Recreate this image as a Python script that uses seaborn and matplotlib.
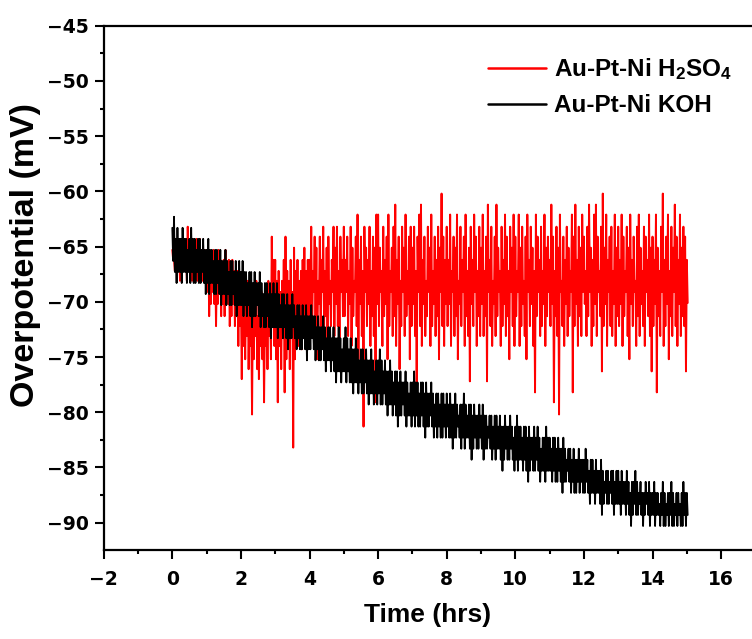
import numpy as np
import pandas as pd
import matplotlib
matplotlib.use("Agg")
import matplotlib.pyplot as plt
import seaborn as sns
from matplotlib.ticker import MultipleLocator


# each run is read as the upper and lower excursion in every 0.05 h slot
TIME_STEP_HRS = 0.05

# Au-Pt-Ni in H2SO4, overpotential (mV), one row per hour
h2so4_high = [
    -65.3, -66.2, -64.3, -65.3, -65.3, -64.3, -66.2, -65.3, -64.3, -63.2, -65.3, -64.3, -65.3, -66.2, -64.3, -65.3, -64.3, -65.3, -66.2, -65.3,
    -66.2, -65.3, -67.2, -66.2, -65.3, -66.2, -67.2, -65.3, -66.2, -67.2, -66.2, -65.3, -67.2, -66.2, -68.1, -66.2, -67.2, -68.1, -67.2, -68.1,
    -69.1, -68.1, -70.2, -69.1, -68.1, -70.2, -71.3, -69.1, -70.2, -68.1, -71.3, -70.2, -69.1, -70.2, -71.3, -69.1, -68.1, -70.2, -64.1, -66.2,
    -66.2, -68.1, -67.2, -69.1, -68.1, -66.2, -64.1, -67.2, -68.1, -66.2, -69.1, -65.1, -67.2, -66.2, -68.1, -67.2, -66.2, -65.1, -67.2, -66.2,
    -66.2, -63.2, -67.2, -64.1, -65.1, -68.1, -64.1, -66.2, -63.2, -67.2, -65.1, -64.1, -68.1, -66.2, -63.2, -65.1, -63.2, -67.2, -64.1, -66.2,
    -63.2, -66.2, -64.1, -67.2, -63.2, -65.1, -68.1, -64.1, -62.1, -66.2, -64.1, -67.2, -63.2, -65.1, -66.2, -63.2, -67.2, -64.1, -65.1, -62.1,
    -62.1, -65.1, -67.2, -63.2, -66.2, -64.1, -62.1, -67.2, -65.1, -63.2, -61.2, -66.2, -64.1, -68.1, -63.2, -65.1, -62.1, -67.2, -64.1, -63.2,
    -65.1, -63.2, -67.2, -64.1, -62.1, -61.2, -66.2, -64.1, -68.1, -63.2, -65.1, -62.1, -67.2, -64.1, -66.2, -63.2, -65.1, -60.2, -64.1, -66.2,
    -63.2, -66.2, -62.1, -67.2, -64.1, -65.1, -62.1, -68.1, -63.2, -66.2, -64.1, -62.1, -67.2, -65.1, -63.2, -66.2, -62.1, -64.1, -67.2, -63.2,
    -65.1, -62.1, -67.2, -64.1, -61.2, -66.2, -63.2, -68.1, -64.1, -61.2, -65.1, -67.2, -63.2, -66.2, -62.1, -64.1, -67.2, -63.2, -65.1, -62.1,
    -64.1, -67.2, -62.1, -65.1, -63.2, -68.1, -64.1, -62.1, -66.2, -63.2, -65.1, -67.2, -62.1, -64.1, -66.2, -63.2, -67.2, -62.1, -65.1, -64.1,
    -66.2, -61.2, -64.1, -67.2, -63.2, -65.1, -62.1, -68.1, -64.1, -66.2, -63.2, -65.1, -67.2, -62.1, -64.1, -61.2, -66.2, -63.2, -65.1, -62.1,
    -64.1, -67.2, -63.2, -61.2, -65.1, -66.2, -62.1, -61.2, -64.1, -67.2, -63.2, -60.2, -65.1, -62.1, -66.2, -64.1, -63.2, -67.2, -62.1, -65.1,
    -63.2, -66.2, -62.1, -64.1, -67.2, -63.2, -65.1, -62.1, -66.2, -64.1, -68.1, -63.2, -62.1, -65.1, -67.2, -63.2, -64.1, -66.2, -62.1, -65.1,
    -64.1, -66.2, -62.1, -65.1, -67.2, -63.2, -60.2, -66.2, -64.1, -62.1, -67.2, -63.2, -65.1, -61.2, -64.1, -66.2, -62.1, -65.1, -63.2, -64.1,
    -66.2,
]
h2so4_low = [
    -66.2, -67.2, -67.2, -66.2, -68.1, -67.2, -66.2, -67.2, -68.1, -67.2, -66.2, -68.1, -67.2, -67.2, -68.1, -66.2, -67.2, -68.1, -67.2, -68.1,
    -69.1, -71.3, -70.2, -69.1, -70.2, -72.2, -70.2, -69.1, -71.3, -70.2, -71.3, -69.1, -70.2, -72.2, -71.3, -70.2, -72.2, -71.3, -74.0, -72.2,
    -77.0, -74.0, -75.2, -73.1, -76.1, -74.0, -80.2, -75.2, -73.1, -76.1, -77.0, -74.0, -75.2, -79.1, -74.0, -76.1, -73.1, -75.2, -72.2, -74.0,
    -75.2, -79.1, -74.0, -76.1, -73.1, -78.2, -75.2, -74.0, -76.1, -73.1, -83.2, -75.2, -72.2, -74.0, -73.1, -74.3, -72.2, -73.1, -74.0, -72.2,
    -70.2, -73.1, -69.1, -72.2, -75.2, -70.2, -74.0, -69.1, -72.2, -71.3, -74.0, -70.2, -72.2, -69.1, -73.1, -70.2, -72.2, -74.0, -69.1, -71.3,
    -71.3, -69.1, -73.1, -70.2, -74.0, -71.3, -69.1, -72.2, -75.2, -70.2, -73.1, -81.3, -69.1, -72.2, -70.2, -74.0, -71.3, -73.1, -79.1, -70.2,
    -72.2, -69.1, -74.0, -71.3, -70.2, -75.2, -72.2, -69.1, -73.1, -71.3, -74.0, -70.2, -76.1, -72.2, -69.1, -73.1, -71.3, -70.2, -75.2, -72.2,
    -70.2, -73.1, -77.9, -69.1, -72.2, -74.0, -70.2, -73.1, -71.3, -69.1, -74.0, -72.2, -70.2, -73.1, -71.3, -75.2, -69.1, -72.2, -74.0, -70.2,
    -72.2, -70.2, -74.0, -69.1, -73.1, -71.3, -75.2, -70.2, -72.2, -69.1, -74.0, -71.3, -73.1, -77.2, -70.2, -72.2, -69.1, -74.0, -71.3, -73.1,
    -70.2, -73.1, -71.3, -77.2, -69.1, -72.2, -74.0, -70.2, -73.1, -71.3, -69.1, -74.0, -72.2, -70.2, -73.1, -71.3, -75.2, -69.1, -72.2, -74.0,
    -71.3, -69.1, -74.0, -72.2, -70.2, -73.1, -75.2, -69.1, -72.2, -70.2, -74.0, -78.2, -71.3, -69.1, -73.1, -72.2, -70.2, -74.0, -71.3, -69.1,
    -72.2, -70.2, -79.1, -71.3, -73.1, -80.2, -69.1, -72.2, -74.0, -70.2, -73.1, -71.3, -69.1, -78.2, -72.2, -70.2, -74.0, -71.3, -73.1, -69.1,
    -70.2, -73.1, -71.3, -69.1, -74.0, -72.2, -70.2, -73.1, -69.1, -71.3, -76.3, -72.2, -70.2, -74.0, -69.1, -72.2, -73.1, -70.2, -74.0, -71.3,
    -72.2, -70.2, -74.0, -71.3, -69.1, -73.1, -75.2, -70.2, -72.2, -69.1, -74.0, -71.3, -73.1, -70.2, -72.2, -74.0, -69.1, -71.3, -73.1, -76.3,
    -72.2, -70.2, -78.2, -71.3, -73.1, -69.1, -74.0, -72.2, -70.2, -75.2, -71.3, -73.1, -69.1, -72.2, -74.0, -70.2, -73.1, -71.3, -72.2, -76.3,
    -70.1,
]

# Au-Pt-Ni in KOH, overpotential (mV), one row per hour
koh_high = [
    -63.3, -62.3, -64.3, -63.3, -64.3, -64.3, -63.3, -64.3, -64.3, -65.3, -64.3, -63.3, -64.3, -64.3, -65.3, -64.3, -64.3, -65.3, -64.3, -65.3,
    -65.3, -64.3, -65.3, -65.3, -66.3, -65.3, -65.3, -66.3, -65.3, -66.3, -66.3, -65.3, -66.3, -67.3, -66.3, -66.3, -67.3, -66.3, -67.3, -66.3,
    -67.3, -66.3, -67.3, -67.3, -68.3, -67.3, -67.3, -68.3, -67.3, -68.3, -68.3, -67.3, -68.3, -69.3, -68.3, -68.3, -69.3, -68.3, -69.3, -68.3,
    -69.3, -68.3, -69.3, -70.3, -69.3, -69.3, -70.3, -69.3, -70.3, -70.3, -69.3, -70.3, -71.3, -70.3, -70.3, -71.3, -70.3, -71.3, -70.3, -71.3,
    -71.3, -70.3, -71.3, -71.3, -72.3, -71.3, -72.3, -72.3, -71.3, -72.3, -73.3, -72.3, -72.3, -73.3, -72.3, -73.3, -73.3, -72.3, -73.3, -74.3,
    -73.3, -72.3, -73.3, -74.3, -73.3, -74.3, -74.3, -73.3, -74.3, -75.3, -74.3, -74.3, -75.3, -74.3, -75.3, -75.3, -74.3, -75.3, -76.3, -75.3,
    -75.3, -74.3, -75.3, -76.3, -75.3, -76.3, -76.3, -75.3, -76.3, -77.3, -76.3, -76.3, -77.3, -76.3, -77.3, -77.3, -76.3, -77.3, -78.3, -77.3,
    -77.3, -76.3, -77.3, -77.3, -78.3, -77.3, -77.3, -78.3, -77.3, -78.3, -78.3, -77.3, -78.3, -79.3, -78.3, -78.3, -79.3, -78.3, -78.3, -79.3,
    -78.3, -79.3, -78.3, -79.3, -79.3, -78.3, -79.3, -80.3, -79.3, -79.3, -78.3, -79.3, -80.3, -79.3, -79.3, -80.3, -79.3, -80.3, -80.3, -79.3,
    -80.3, -79.3, -80.3, -80.3, -81.3, -80.3, -80.3, -81.3, -80.3, -80.3, -81.3, -80.3, -81.3, -81.3, -80.3, -81.3, -81.3, -80.3, -81.3, -82.3,
    -81.3, -80.3, -81.3, -81.3, -82.3, -81.3, -81.3, -82.3, -81.3, -82.3, -82.3, -81.3, -82.3, -81.3, -82.3, -83.3, -82.3, -82.3, -81.3, -82.3,
    -82.3, -83.3, -82.3, -82.3, -83.3, -82.3, -83.3, -83.3, -82.3, -83.3, -84.3, -83.3, -83.3, -84.3, -83.3, -84.3, -84.3, -83.3, -84.3, -84.3,
    -84.3, -83.3, -84.3, -85.3, -84.3, -84.3, -85.3, -84.3, -85.3, -85.3, -84.3, -85.3, -86.3, -85.3, -85.3, -86.3, -85.3, -85.3, -86.3, -85.3,
    -85.3, -86.3, -85.3, -86.3, -86.3, -85.3, -86.3, -87.3, -86.3, -86.3, -85.3, -86.3, -87.3, -86.3, -87.3, -87.3, -86.3, -87.3, -86.3, -87.3,
    -87.3, -86.3, -87.3, -87.3, -88.3, -87.3, -86.3, -87.3, -88.3, -87.3, -87.3, -86.3, -87.3, -88.3, -87.3, -87.3, -88.3, -87.3, -86.3, -87.3,
    -87.3,
]
koh_low = [
    -66.3, -67.3, -68.3, -67.3, -67.3, -68.3, -67.3, -67.3, -68.3, -67.3, -68.3, -67.3, -68.3, -68.3, -67.3, -68.3, -68.3, -67.3, -68.3, -69.3,
    -68.3, -69.3, -68.3, -68.3, -69.3, -69.3, -68.3, -69.3, -70.3, -69.3, -69.3, -70.3, -69.3, -70.3, -70.3, -69.3, -70.3, -71.3, -70.3, -70.3,
    -70.3, -71.3, -70.3, -71.3, -70.3, -71.3, -72.3, -71.3, -71.3, -70.3, -71.3, -72.3, -71.3, -72.3, -72.3, -71.3, -72.3, -73.3, -72.3, -72.3,
    -72.3, -73.3, -72.3, -72.3, -73.3, -72.3, -73.3, -74.3, -73.3, -73.3, -72.3, -73.3, -74.3, -73.3, -74.3, -74.3, -73.3, -74.3, -75.3, -74.3,
    -74.3, -73.3, -74.3, -75.3, -74.3, -75.3, -75.3, -74.3, -75.3, -76.3, -75.3, -75.3, -76.3, -75.3, -76.3, -77.3, -76.3, -76.3, -77.3, -76.3,
    -76.3, -77.3, -76.3, -77.3, -77.3, -78.3, -77.3, -77.3, -78.3, -77.3, -78.3, -78.3, -77.3, -78.3, -79.3, -78.3, -78.3, -79.3, -78.3, -79.3,
    -78.3, -79.3, -79.3, -78.3, -79.3, -80.3, -79.3, -79.3, -80.3, -79.3, -80.3, -81.3, -80.3, -80.3, -79.3, -80.3, -81.3, -80.3, -80.3, -81.3,
    -80.3, -81.3, -80.3, -81.3, -81.3, -80.3, -81.3, -82.3, -81.3, -81.3, -80.3, -81.3, -82.3, -81.3, -82.3, -81.3, -82.3, -82.3, -81.3, -82.3,
    -81.3, -82.3, -82.3, -83.3, -82.3, -82.3, -81.3, -82.3, -83.3, -82.3, -83.3, -82.3, -82.3, -83.3, -84.3, -83.3, -82.3, -83.3, -83.3, -82.3,
    -83.3, -84.3, -83.3, -83.3, -82.3, -83.3, -84.3, -83.3, -84.3, -83.3, -83.3, -84.3, -85.3, -84.3, -83.3, -84.3, -84.3, -83.3, -84.3, -85.3,
    -84.3, -85.3, -84.3, -84.3, -85.3, -84.3, -85.3, -86.3, -85.3, -84.3, -85.3, -85.3, -84.3, -85.3, -86.3, -85.3, -85.3, -86.3, -85.3, -85.3,
    -85.3, -86.3, -85.3, -86.3, -86.3, -85.3, -86.3, -87.3, -86.3, -86.3, -85.3, -86.3, -87.3, -86.3, -87.3, -87.3, -86.3, -87.3, -86.3, -87.3,
    -87.3, -86.3, -87.3, -88.3, -87.3, -87.3, -88.3, -87.3, -87.3, -88.3, -89.3, -88.3, -87.3, -88.3, -88.3, -87.3, -88.3, -89.3, -88.3, -88.3,
    -88.3, -89.3, -88.3, -88.3, -89.3, -88.3, -89.3, -90.3, -89.3, -88.3, -89.3, -89.3, -88.3, -89.3, -90.3, -89.3, -88.3, -89.3, -90.3, -89.3,
    -89.3, -90.3, -89.3, -89.3, -90.3, -89.3, -90.3, -90.3, -89.3, -90.3, -89.3, -90.3, -90.3, -89.3, -90.3, -89.3, -90.3, -90.3, -89.3, -90.3,
    -89.3,
]

series_labels = ["Au-Pt-Ni H$_2$SO$_4$", "Au-Pt-Ni KOH"]
series_colors = ["#ff0000", "#000000"]
series_widths = [1.4, 1.3]

x_ticks = [-2, 0, 2, 4, 6, 8, 10, 12, 14, 16]
y_ticks = [-90, -85, -80, -75, -70, -65, -60, -55, -50, -45]


def build_frame(high, low) -> pd.DataFrame:
    t = np.arange(len(high)) * TIME_STEP_HRS
    # the trace swings between the two readings inside each slot
    return pd.DataFrame({
        "time": np.column_stack([t, t + TIME_STEP_HRS / 2]).ravel(),
        "overpotential": np.column_stack([high, low]).ravel(),
    })


runs = [build_frame(h2so4_high, h2so4_low), build_frame(koh_high, koh_low)]

sns.set_style("ticks")
plt.rcParams["font.family"] = ["Liberation Sans", "DejaVu Sans"]
plt.rcParams["font.weight"] = "bold"
plt.rcParams["mathtext.default"] = "regular"
plt.rcParams["text.color"] = "black"
plt.rcParams["axes.labelcolor"] = "black"
plt.rcParams["path.simplify"] = False

fig = plt.figure(figsize=(7.52, 6.39), dpi=100)
ax = fig.add_axes([0.1379, 0.1393, 0.8621, 0.8205])

for frame, label, color, lw in zip(runs, series_labels, series_colors, series_widths):
    sns.lineplot(data=frame, x="time", y="overpotential", color=color,
                 estimator=None, sort=False, linewidth=lw, label=label, ax=ax)

ax.set_xlim(-2, 16.9)
ax.set_ylim(-92.47, -45)
ax.set_xticks(x_ticks)
ax.set_yticks(y_ticks)
ax.xaxis.set_minor_locator(MultipleLocator(1))
ax.yaxis.set_minor_locator(MultipleLocator(2.5))

ax.spines["right"].set_visible(False)
for side in ["left", "bottom", "top"]:
    ax.spines[side].set_linewidth(1.6)
    ax.spines[side].set_color("black")
ax.tick_params(which="major", direction="out", length=6.5, width=1.5, colors="black")
ax.tick_params(which="minor", direction="out", length=3.2, width=1.5, colors="black")
ax.tick_params(axis="y", pad=4)
ax.tick_params(axis="x", pad=8)
for lbl in ax.get_xticklabels() + ax.get_yticklabels():
    lbl.set_fontfamily("DejaVu Sans")
    lbl.set_fontweight("bold")
    lbl.set_fontsize(13.5)

ax.set_xlabel("Time (hrs)", fontsize=19, fontweight="bold", labelpad=10)
ax.set_ylabel("Overpotential (mV)", fontsize=24.5, fontweight="bold")
ax.yaxis.set_label_coords(-0.097, 0.563)

leg = ax.legend(loc="upper left", bbox_to_anchor=(476 / 752, 1 - 44 / 639),
                bbox_transform=fig.transFigure, frameon=False, borderpad=0,
                handlelength=2.4, handletextpad=0.3, labelspacing=0.5,
                prop={"weight": "bold", "size": 17.5})
for line in leg.get_lines():
    line.set_linewidth(1.8)

fig.savefig("out.png", dpi=100)
